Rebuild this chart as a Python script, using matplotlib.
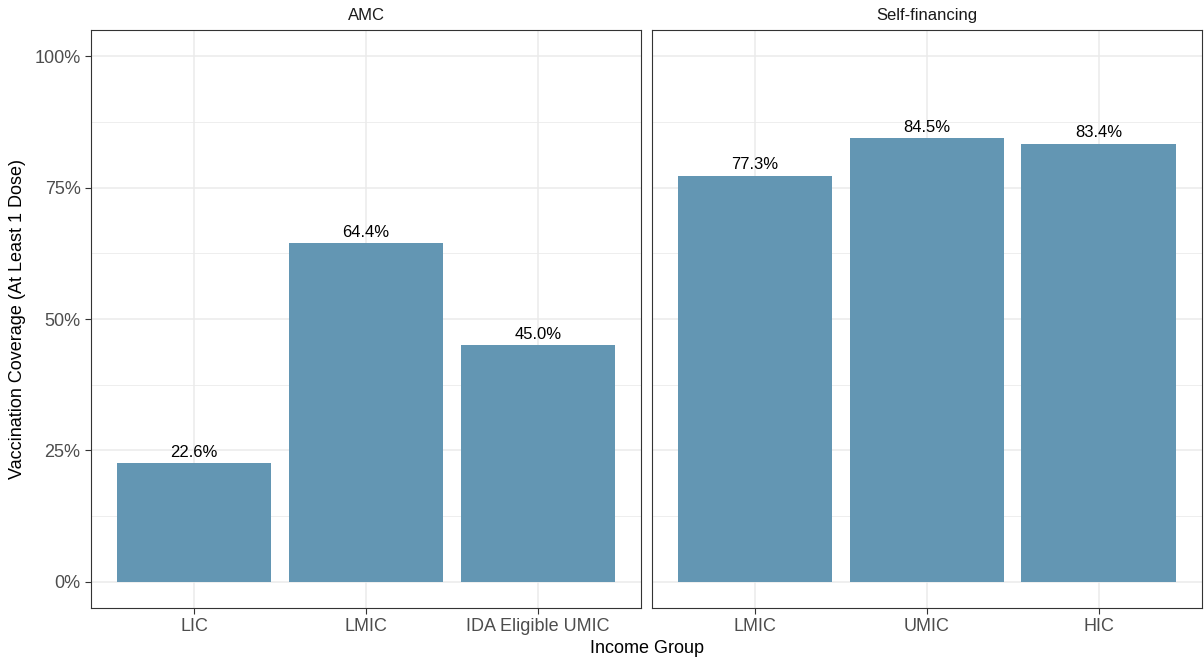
import matplotlib.pyplot as plt
import numpy as np

# data
facets = ["AMC", "Self-financing"]
amc_groups = ["LIC", "LMIC", "IDA Eligible UMIC"]
amc_values = [22.6, 64.4, 45.0]
self_groups = ["LMIC", "UMIC", "HIC"]
self_values = [77.3, 84.5, 83.4]

bar_color = "#6396B3"
grid_color = "#EBEBEB"

plt.rcParams["font.family"] = ["Liberation Sans", "DejaVu Sans"]

fig = plt.figure(figsize=(12.04, 6.57), dpi=100)
ax1 = fig.add_axes([0.0756, 0.0746, 0.4568, 0.8797])
ax2 = fig.add_axes([0.5415, 0.0746, 0.4568, 0.8797], sharey=ax1)

panels = [(ax1, facets[0], amc_groups, amc_values),
          (ax2, facets[1], self_groups, self_values)]

for ax, title, groups, values in panels:
    x = np.arange(len(groups))
    ax.set_axisbelow(True)
    ax.bar(x, values, width=0.9, color=bar_color, zorder=2)
    for xi, v in zip(x, values):
        ax.text(xi, v + 0.6, f"{v:.1f}%", ha="center", va="bottom",
                fontsize=12, color="black")
    ax.set_xlim(-0.6, len(groups) - 0.4)
    ax.set_ylim(-5, 105)
    ax.set_xticks(x)
    ax.set_xticklabels(groups, fontsize=13, color="#4D4D4D")
    ax.set_yticks([0, 25, 50, 75, 100])
    ax.set_yticks([12.5, 37.5, 62.5, 87.5], minor=True)
    ax.set_yticklabels(["0%", "25%", "50%", "75%", "100%"], fontsize=13,
                       color="#4D4D4D")
    ax.grid(which="major", color=grid_color, linewidth=1.1)
    ax.grid(which="minor", axis="y", color=grid_color, linewidth=0.6)
    ax.tick_params(which="major", length=4, width=0.8, color="#333333")
    ax.tick_params(which="minor", length=0)
    for s in ax.spines.values():
        s.set_color("#333333")
        s.set_linewidth(0.8)
    ax.set_title(title, fontsize=12, color="#1A1A1A", pad=7)

ax2.tick_params(axis="y", which="both", left=False, labelleft=False)

ax1.set_ylabel("Vaccination Coverage (At Least 1 Dose)", fontsize=13, labelpad=6)
fig.text(0.5371, 0.0, "Income Group", ha="center", va="bottom", fontsize=13)

fig.savefig("out.png", dpi=100)
